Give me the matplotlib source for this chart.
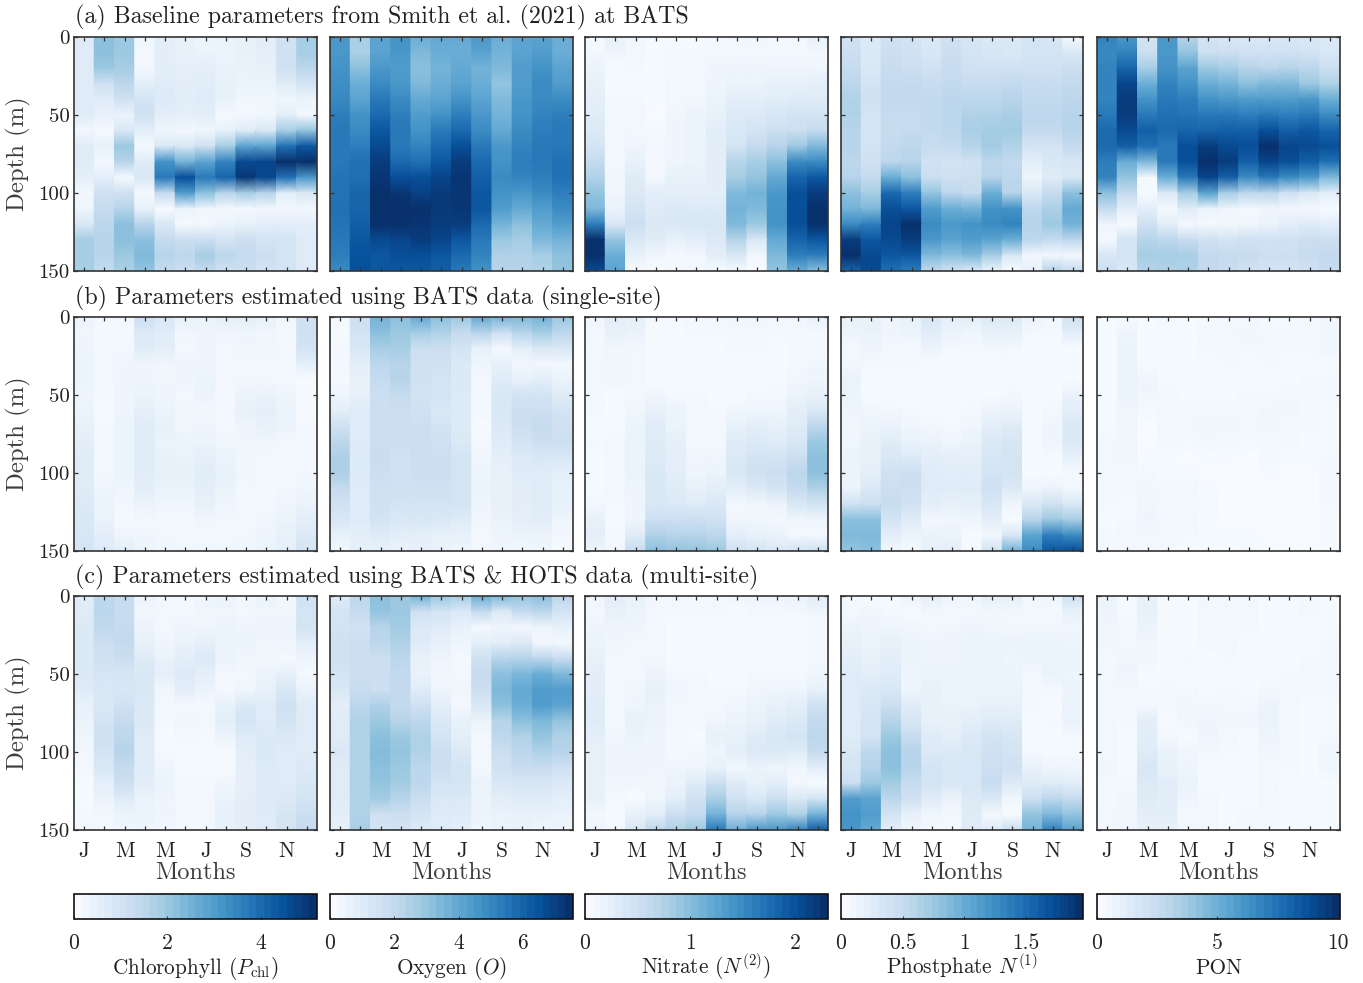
import numpy as np
import matplotlib
matplotlib.use('Agg')
import matplotlib.pyplot as plt
from matplotlib.cm import ScalarMappable
from matplotlib.colors import Normalize

plt.rcParams['font.family'] = ['cmr10', 'DejaVu Serif']
plt.rcParams['mathtext.fontset'] = 'cm'
plt.rcParams['axes.formatter.use_mathtext'] = True

depths = [0, 10, 20, 30, 40, 50, 60, 70, 80, 90, 100, 110, 120, 130, 140, 150]
months = ['J', 'M', 'M', 'J', 'S', 'N']
row_titles = ['(a) Baseline parameters from Smith et al. (2021) at BATS',
              '(b) Parameters estimated using BATS data (single-site)',
              '(c) Parameters estimated using BATS & HOTS data (multi-site)']
cbar_labels = [r'Chlorophyll ($P_{\mathrm{chl}}$)', r'Oxygen ($O$)', r'Nitrate ($N^{(2)}$)',
               r'Phostphate $N^{(1)}$', 'PON']
cbar_max = [5.2, 7.56, 2.31, 1.96, 10.1]
cbar_ticks = [[0, 2, 4], [0, 2, 4, 6], [0, 1, 2], [0, 0.5, 1, 1.5], [0, 5, 10]]
cbar_ticklabels = [['0', '2', '4'], ['0', '2', '4', '6'], ['0', '1', '2'],
                   ['0', '0.5', '1', '1.5'], ['0', '5', '10']]

# Each table: one list per month, one value per depth, in percent of the colour bar range
chl_a = [[12,12,12,12,12,12,3,12,12,10,3,5,15,35,35,35],
[42,42,38,20,12,8,2,8,3,10,20,25,28,30,30,25],
[38,38,35,28,20,6,15,38,30,2,20,30,42,42,38,33],
[5,2,3,10,18,20,10,2,12,15,2,8,30,42,45,40],
[10,10,10,12,13,10,4,15,62,72,25,1,15,25,30,25],
[8,8,9,10,11,9,3,15,48,88,58,6,2,22,28,22],
[5,6,10,11,12,10,4,20,55,72,42,4,3,22,35,25],
[7,7,7,8,8,2,8,35,68,80,30,2,6,18,28,20],
[8,8,7,6,4,2,12,55,90,97,35,2,8,22,25,22],
[10,10,8,6,4,4,15,55,92,92,30,3,10,18,22,18],
[20,20,20,12,4,10,35,75,100,75,10,3,10,18,18,18],
[35,35,28,18,6,3,40,85,100,60,15,3,10,12,12,12]]
oxy_a = [[60,60,62,64,66,70,72,72,72,74,74,75,74,72,70,65],
[35,33,42,50,55,62,65,70,75,75,80,80,82,85,87,88],
[55,55,60,65,72,78,85,90,95,98,100,100,100,90,85,85],
[62,60,58,60,65,70,72,72,78,88,98,100,100,92,88,85],
[50,45,42,45,52,58,62,68,75,88,93,100,98,95,88,85],
[52,50,48,50,55,62,72,78,85,92,96,96,95,92,85,82],
[52,50,52,55,62,70,78,88,95,98,98,97,95,85,78,72],
[60,55,48,50,55,60,65,72,78,82,85,85,78,72,68,62],
[50,48,45,40,45,48,52,60,62,65,62,58,48,38,32,30],
[55,55,58,58,60,62,65,68,70,68,60,52,42,35,32,30],
[55,58,62,65,65,68,70,72,72,70,65,58,52,45,35,32],
[50,50,55,58,65,70,72,72,75,75,70,65,58,48,42,40]]
nit_a = [[1,3,6,8,10,11,14,18,25,32,40,45,70,100,100,90],
[8,5,1,1,2,2,3,3,3,4,4,6,15,40,50,55],
[4,3,2,1,2,3,3,5,8,12,14,18,22,15,8,1],
[1,1,1,1,1,0,2,3,2,3,10,12,14,12,4,1],
[1,2,2,3,3,4,5,5,5,8,10,14,15,8,2,2],
[1,2,3,3,3,6,6,6,6,8,9,13,16,10,3,3],
[2,3,5,5,6,8,11,10,10,10,10,13,16,14,10,1],
[3,3,5,6,10,13,15,18,30,35,45,48,45,30,15,2],
[4,3,5,6,10,14,18,25,35,40,48,45,38,15,4,0],
[2,2,5,8,11,16,22,30,42,52,60,62,62,52,45,40],
[3,2,5,8,12,18,22,38,65,80,88,88,88,80,70,50],
[8,3,4,10,12,18,25,45,65,85,95,100,100,85,70,42]]
pho_a = [[20,22,25,28,32,32,30,30,28,30,42,48,65,95,100,80],
[14,14,15,18,20,18,18,18,20,25,35,45,70,85,90,90],
[20,22,24,26,26,25,24,26,28,50,78,88,92,90,85,75],
[18,20,22,26,26,25,25,28,30,42,70,85,100,95,85,70],
[14,16,20,24,26,26,26,24,20,22,40,58,65,60,45,25],
[20,22,24,26,28,28,28,25,18,20,28,50,60,55,42,18],
[16,18,20,24,28,32,34,30,20,22,25,48,62,58,45,12],
[14,16,20,24,28,32,36,36,28,30,50,62,65,55,35,5],
[14,15,20,26,30,34,36,32,26,28,30,62,68,50,15,0],
[18,18,20,24,26,28,26,18,10,5,15,28,30,28,3,8],
[16,18,20,24,26,28,26,18,15,12,25,33,38,25,3,30],
[2,15,22,26,28,30,30,25,16,15,42,52,48,28,2,25]]
pon_a = [[68,66,68,68,68,72,78,78,70,68,42,25,5,2,16,22],
[60,68,80,92,95,95,90,82,50,40,25,10,1,18,18,15],
[18,22,35,50,62,72,82,75,45,2,1,10,20,30,35,30],
[60,60,62,68,72,75,78,72,72,50,14,2,10,28,35,32],
[30,40,55,62,70,74,80,88,88,72,35,12,2,24,34,32],
[18,22,38,50,62,72,80,95,100,92,55,6,2,20,26,26],
[15,22,35,48,60,72,82,90,95,82,35,5,3,18,25,24],
[14,20,30,42,58,70,82,88,82,65,28,3,4,20,24,20],
[14,20,28,45,58,72,88,100,92,72,28,4,6,20,22,18],
[15,20,30,45,58,70,82,92,88,65,20,3,10,20,22,18],
[15,18,28,38,60,72,85,90,82,60,15,2,12,22,24,20],
[14,15,22,32,50,65,80,88,75,45,10,1,10,22,26,24]]

chl_b = [[6,4,5,6,6,5,6,8,10,12,12,12,14,15,16,18],
[3,2,2,3,3,2,1,2,3,3,3,5,6,7,10,13],
[3,2,2,5,5,5,5,6,6,6,6,5,3,2,5,10],
[22,14,12,4,5,6,9,12,12,12,11,10,6,3,4,6],
[15,12,10,4,4,5,6,8,6,8,8,7,5,2,3,5],
[8,4,3,5,5,3,4,4,6,7,8,7,5,2,2,4],
[7,5,5,5,6,6,3,5,6,9,11,10,8,4,3,4],
[9,5,3,3,3,2,3,3,4,6,8,6,5,3,2,4],
[10,5,4,3,3,6,8,5,4,4,4,3,3,3,3,5],
[8,4,4,3,3,7,9,8,4,3,3,2,3,4,5,7],
[4,2,3,3,2,5,7,6,3,3,3,3,5,6,8,9],
[20,20,18,10,1,1,1,2,2,2,3,5,7,10,14,18]]
oxy_b = [[3,1,2,2,2,5,10,20,28,33,33,25,20,16,8,3],
[22,18,15,10,8,8,12,12,12,13,13,12,12,12,10,8],
[48,42,35,28,25,22,22,22,22,23,22,20,20,18,12,8],
[42,38,35,30,30,25,22,22,22,20,20,20,18,15,10,6],
[52,35,22,20,20,18,20,22,22,22,22,20,18,15,10,7],
[42,32,22,20,18,18,15,18,20,22,22,20,18,15,8,6],
[38,25,18,14,14,13,13,13,14,18,18,18,18,12,8,5],
[52,30,8,5,3,2,3,1,2,4,5,6,5,4,3,3],
[48,22,2,8,12,15,15,14,12,10,8,8,8,7,5,4],
[45,30,10,3,8,18,22,22,18,13,12,10,10,9,6,3],
[48,35,15,3,10,18,22,25,22,15,12,12,12,10,6,4],
[38,28,15,3,6,12,18,20,22,15,10,8,8,5,3,1]]
nit_b = [[4,3,2,3,3,2,2,1,2,1,1,1,3,8,10,5],
[10,8,4,4,4,1,1,1,3,3,3,3,2,1,2,3],
[8,7,3,3,3,3,4,6,6,6,6,5,5,5,12,25],
[2,1,1,1,1,4,8,12,12,13,15,15,15,22,32,42],
[2,1,1,1,1,2,6,6,9,9,10,12,14,22,30,40],
[3,2,1,1,1,2,3,3,3,4,5,8,12,22,30,40],
[3,2,1,1,1,1,2,2,3,4,6,10,15,20,28,38],
[4,3,2,1,1,1,4,8,12,14,15,10,3,4,10,20],
[5,3,2,1,1,2,5,10,14,18,20,14,4,4,8,18],
[3,2,1,1,1,3,5,8,12,18,22,18,6,3,6,15],
[4,2,2,2,4,6,10,12,16,22,28,25,15,4,3,18],
[8,2,2,4,5,8,15,28,38,42,42,32,18,5,2,20]]
pho_b = [[8,6,2,3,7,6,5,4,4,6,6,6,20,42,45,40],
[8,7,5,3,1,1,4,6,8,8,10,14,22,42,45,42],
[5,5,3,2,1,1,3,7,12,15,20,22,24,18,10,3],
[8,6,2,2,1,1,2,4,7,13,22,22,20,12,6,2],
[16,11,6,1,1,1,1,3,7,10,12,12,10,3,7,8],
[10,6,3,1,1,1,1,2,5,9,11,12,8,4,6,9],
[10,5,2,1,1,1,3,4,7,9,11,12,9,5,1,2],
[14,8,3,1,1,1,6,10,14,16,18,20,16,10,3,20],
[14,8,3,1,1,3,6,12,16,18,18,14,4,1,15,48],
[6,3,1,1,1,1,1,1,1,1,1,5,15,30,55,65],
[4,2,1,1,1,1,3,5,5,1,1,6,20,38,70,85],
[20,10,1,1,1,7,10,14,14,8,2,3,15,35,65,88]]
pon_b = [[1,1,1,1,1,1,1,1,3,3,2,2,2,1,2,2],
[1,5,6,6,6,6,4,4,4,4,3,2,1,2,3,3],
[1,1,1,1,5,4,2,0,0,1,2,4,4,5,3,3],
[3,1,1,1,1,3,3,3,2,1,1,3,3,3,3,2],
[1,1,1,1,1,1,3,3,2,0,1,3,3,3,2,1],
[1,3,3,1,1,1,3,4,3,1,0,1,2,1,1,1],
[2,3,3,2,1,1,3,4,2,1,0,0,0,0,1,1],
[2,4,3,1,1,2,2,3,2,0,0,0,0,0,1,2],
[1,3,3,2,1,2,4,4,2,2,1,0,0,0,0,1],
[1,2,2,1,1,3,4,2,2,1,0,0,0,0,0,1],
[2,3,3,1,2,2,2,2,1,1,0,0,0,0,0,1],
[3,4,4,1,2,2,1,1,1,2,2,2,2,1,1,1]]

chl_c = [[12,12,14,14,14,14,12,8,6,5,3,3,1,1,2,3],
[28,28,27,22,20,17,15,15,18,20,18,15,10,6,3,2],
[24,24,25,26,23,17,16,20,25,28,30,25,22,12,6,4],
[7,3,6,8,12,15,15,14,14,12,12,12,10,7,6,5],
[3,3,3,5,7,9,4,3,2,1,2,5,6,5,5,3],
[2,2,5,7,10,13,10,2,4,3,1,1,2,2,3,2],
[5,4,4,9,14,9,6,2,3,2,1,1,2,3,3,3],
[7,4,6,6,6,3,2,8,10,6,1,1,4,7,8,8],
[3,3,5,6,4,3,4,14,18,12,10,9,9,10,10,10],
[7,4,5,4,3,6,8,12,12,14,14,13,12,13,12,12],
[4,4,5,5,2,8,16,20,18,14,12,12,12,14,17,18],
[20,18,18,10,5,2,7,12,12,12,12,14,15,18,22,25]]
oxy_c = [[12,18,18,20,20,18,15,10,12,12,15,12,12,12,10,8],
[28,25,20,22,22,22,24,28,32,32,32,32,32,32,32,34],
[42,40,30,28,22,22,22,32,38,42,44,42,40,36,20,18],
[38,38,36,32,28,26,26,26,30,38,40,38,36,30,22,18],
[48,20,14,12,8,7,12,20,28,32,32,28,28,22,18,12],
[38,18,12,8,5,3,5,10,14,18,22,22,18,14,12,12],
[35,14,8,5,2,3,4,3,8,10,14,18,18,14,12,10],
[50,25,2,10,20,25,22,15,6,2,3,3,6,6,6,4],
[45,14,5,10,30,42,46,42,30,28,22,20,15,10,7,6],
[40,25,2,14,30,46,52,50,42,32,28,24,16,12,8,6],
[42,28,5,3,28,50,58,58,45,40,32,24,16,12,8,4],
[28,18,8,2,24,45,58,55,40,32,30,20,14,10,6,5]]
nit_c = [[4,2,5,6,8,10,10,12,12,10,8,8,8,8,3,5],
[10,8,5,4,3,2,2,3,3,4,5,5,4,2,1,2],
[8,6,5,3,3,3,4,5,8,6,5,5,4,1,8,15],
[3,3,3,3,3,6,8,7,6,5,5,5,3,5,10,28],
[4,2,1,1,1,2,5,3,3,2,2,5,6,10,22,32],
[3,2,1,1,1,2,3,2,3,1,3,5,12,20,25,38],
[4,2,1,1,1,1,2,3,4,8,5,8,22,34,48,72],
[5,1,1,1,1,1,2,4,6,8,10,3,12,20,30,50],
[6,2,1,1,1,2,4,6,8,12,14,6,8,15,30,60],
[6,2,1,1,1,2,5,8,12,15,14,5,10,22,38,60],
[7,3,1,1,1,2,5,10,14,18,12,4,3,15,32,68],
[12,4,2,2,3,4,8,20,26,28,25,10,1,18,48,82]]
pho_c = [[3,2,6,8,10,12,12,12,12,12,15,18,22,58,62,60],
[1,4,5,6,8,10,14,16,18,18,28,30,38,55,58,52],
[1,2,5,8,10,12,16,22,30,38,42,42,36,28,18,10],
[6,1,4,6,6,5,5,12,16,24,30,30,24,20,8,4],
[10,3,3,5,5,6,8,8,8,12,14,18,18,12,4,2],
[5,2,4,5,5,6,6,7,8,10,14,15,15,6,3,2],
[4,3,5,6,6,6,6,7,10,14,15,16,16,14,12,12],
[10,3,4,6,6,6,6,8,12,18,20,22,24,15,3,12],
[10,3,3,6,5,6,6,8,12,16,18,20,14,4,1,22],
[4,2,4,6,6,3,2,2,1,1,2,8,12,22,40,48],
[5,2,4,6,7,7,2,1,2,1,1,5,12,28,45,68],
[20,8,4,5,7,5,6,6,7,2,1,5,10,25,40,55]]
pon_c = [[6,5,4,4,2,3,3,3,3,3,3,4,2,2,3,3],
[1,1,3,3,4,5,3,2,2,1,1,1,3,4,4,4],
[8,8,6,4,4,1,2,3,10,11,12,16,14,12,10,8],
[1,1,1,1,1,1,3,3,1,3,7,8,11,10,10,8],
[1,1,1,1,2,1,2,4,4,1,4,5,6,5,2,3],
[3,3,3,3,1,1,1,3,5,5,3,1,1,2,3,3],
[3,3,3,3,2,1,2,3,4,3,2,1,1,1,1,1],
[3,3,3,1,1,1,1,3,4,1,1,1,1,1,2,2],
[1,1,1,1,1,1,3,6,7,5,4,3,3,3,2,2],
[2,1,1,1,1,2,3,3,3,3,2,2,1,1,1,1],
[2,3,1,1,2,3,3,1,1,1,1,1,1,1,1,2],
[1,1,1,2,3,2,3,1,1,2,4,4,1,1,1,1]]

tables = [[chl_a, oxy_a, nit_a, pho_a, pon_a],
          [chl_b, oxy_b, nit_b, pho_b, pon_b],
          [chl_c, oxy_c, nit_c, pho_c, pon_c]]

W, H = 1363, 983
col_x = [(74, 317), (330, 573), (585, 828), (841, 1083), (1097, 1340)]
row_y = [(37, 271), (317, 551), (596, 830)]
title_y = [17, 298, 577]
SPINE = '#333333'
TXT = '#222222'
LBL = '#3c3c3c'
FS = 17.2
cmap = plt.get_cmap('Blues')
cmap_bar = plt.get_cmap('Blues').resampled(32)

def box(x0, x1, y0, y1):
    return [x0 / W, 1 - y1 / H, (x1 - x0) / W, (y1 - y0) / H]

fig = plt.figure(figsize=(W / 100, H / 100), dpi=100)

month_edges = np.repeat(np.arange(13), 2)[1:-1] + np.tile([0.0, -0.001], 12)
X, Y = np.meshgrid(month_edges, depths)

for r, (y0, y1) in enumerate(row_y):
    fig.text(75 / W, 1 - title_y[r] / H, row_titles[r], fontsize=FS, color=TXT, va='center', ha='left')
    for c, (x0, x1) in enumerate(col_x):
        ax = fig.add_axes(box(x0, x1, y0, y1))
        vals = np.array(tables[r][c], dtype=float).T / 100 * cbar_max[c]
        ax.pcolormesh(X, Y, np.repeat(vals, 2, axis=1), shading='gouraud', cmap=cmap,
                      vmin=0, vmax=cbar_max[c])
        ax.set_xlim(0, 12)
        ax.set_ylim(150, 0)
        ax.set_xticks(np.arange(12) + 0.5)
        ax.set_yticks([0, 50, 100, 150])
        ax.tick_params(axis='both', direction='in', length=3.2, width=0.9, top=True, right=True,
                       color=SPINE, labelsize=FS, labelcolor=TXT)
        if r == 2:
            ax.set_xticklabels([months[i // 2] if i % 2 == 0 else '' for i in range(12)], fontsize=15.5)
            ax.tick_params(axis='x', pad=8)
            ax.set_xlabel('Months', fontsize=17.5, color=LBL, labelpad=1)
        else:
            ax.set_xticklabels([])
        if c == 0:
            ax.set_yticklabels(['0', '50', '100', '150'], fontsize=15)
            ax.tick_params(axis='y', pad=3)
            ax.set_ylabel('Depth (m)', fontsize=17.8, color=LBL)
            ax.yaxis.set_label_coords((31 - x0) / (x1 - x0), 0.5)
        else:
            ax.set_yticklabels([])
        for s in ax.spines.values():
            s.set_color(SPINE)
            s.set_linewidth(1.2)

for c, (x0, x1) in enumerate(col_x):
    cax = fig.add_axes(box(x0, x1, 894, 919))
    sm = ScalarMappable(norm=Normalize(0, cbar_max[c]), cmap=cmap_bar)
    cb = fig.colorbar(sm, cax=cax, orientation='horizontal')
    cb.set_ticks(cbar_ticks[c])
    cb.set_ticklabels(cbar_ticklabels[c])
    cb.ax.tick_params(axis='x', direction='in', length=2, width=0.7, pad=10.5, color=SPINE,
                      labelsize=15.5, labelcolor=TXT)
    cb.outline.set_edgecolor('#111111')
    cb.outline.set_linewidth(1.2)
    fig.text((x0 + x1) / 2 / W, 1 - 974 / H, cbar_labels[c], fontsize=15.3, color=TXT,
             ha='center', va='baseline')

fig.savefig('out.png', dpi=100)
